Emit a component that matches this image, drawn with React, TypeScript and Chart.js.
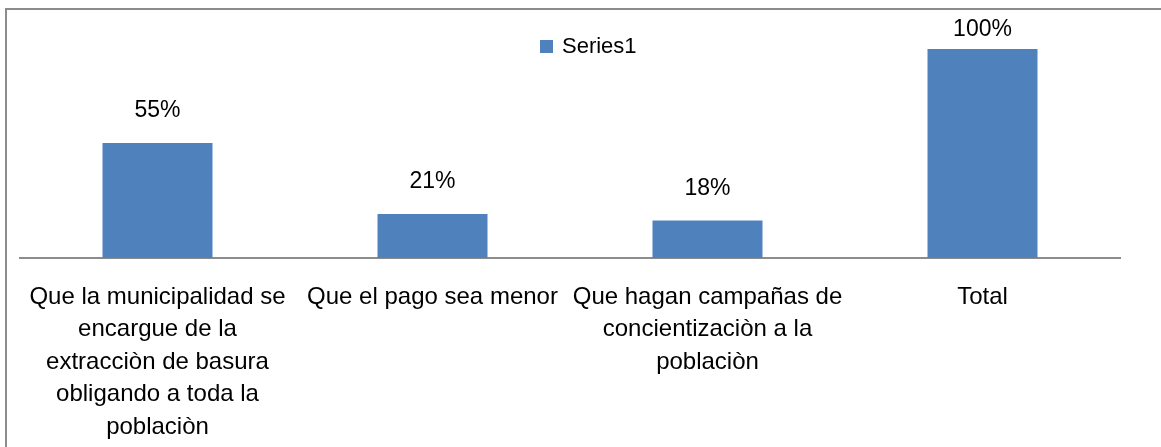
import React, { useEffect, useRef } from "react";
import { Chart, registerables } from "chart.js";

Chart.register(...registerables);

const categories: string[][] = [
  ["Que la municipalidad se", "encargue de la", "extracciòn de basura", "obligando a toda la", "poblaciòn"],
  ["Que el pago sea menor"],
  ["Que hagan campañas de", "concientizaciòn a la", "poblaciòn"],
  ["Total"],
];
const seriesName = "Series1";
const seriesValues = [55, 21, 18, 100];
const barColor = "#4F81BD";
const FONT = "'Liberation Sans', Arial, sans-serif";

const legendPlugin = {
  id: "customLegend",
  afterDraw(chart: any) {
    const ctx = chart.ctx;
    ctx.save();
    ctx.fillStyle = barColor;
    ctx.fillRect(540, 40, 13, 13);
    ctx.fillStyle = "#000";
    ctx.font = `22px ${FONT}`;
    ctx.textBaseline = "middle";
    ctx.textAlign = "left";
    ctx.fillText(seriesName, 562, 47);
    ctx.restore();
  },
};

const dataLabelPlugin = {
  id: "dataLabels",
  afterDatasetsDraw(chart: any) {
    const ctx = chart.ctx;
    const meta = chart.getDatasetMeta(0);
    ctx.save();
    ctx.fillStyle = "#000";
    ctx.font = `23px ${FONT}`;
    ctx.textAlign = "center";
    ctx.textBaseline = "middle";
    meta.data.forEach((bar: any, i: number) => {
      const y = Math.max(bar.y - 32, chart.chartArea.top - 19);
      ctx.fillText(`${seriesValues[i]}%`, bar.x, y);
    });
    ctx.restore();
  },
};

export default function App() {
  const ref = useRef<HTMLCanvasElement>(null);
  useEffect(() => {
    if (!ref.current) return;
    const chart = new Chart(ref.current, {
      type: "bar",
      data: {
        labels: categories,
        datasets: [
          {
            label: seriesName,
            data: seriesValues,
            backgroundColor: barColor,
            borderWidth: 0,
            categoryPercentage: 1,
            barPercentage: 0.4,
          },
        ],
      },
      options: {
        animation: false,
        responsive: false,
        maintainAspectRatio: false,
        layout: { padding: { left: 20, right: 41, top: 49, bottom: 0 } },
        plugins: { legend: { display: false }, tooltip: { enabled: false } },
        scales: {
          x: {
            grid: { display: false, drawTicks: false },
            border: { display: true, color: "#8c8c8c", width: 2 },
            ticks: {
              color: "#000",
              font: { family: FONT, size: 24, lineHeight: 32.5 / 24 },
              padding: 23,
              maxRotation: 0,
              autoSkip: false,
            },
            afterFit(scale: any) {
              scale.height = 189;
            },
          },
          y: { display: false, min: 0, max: 100 },
        },
      },
      plugins: [legendPlugin, dataLabelPlugin],
    });
    return () => chart.destroy();
  }, []);

  return (
    <div style={{ position: "fixed", left: 0, top: 0, width: 1161, height: 447, overflow: "hidden", background: "#fff" }}>
      <div
        style={{
          position: "absolute",
          left: 5,
          top: 8,
          width: 1200,
          height: 500,
          border: "2px solid #8c8c8c",
          boxSizing: "border-box",
        }}
      />
      <canvas ref={ref} width={1161} height={447} style={{ position: "absolute", left: 0, top: 0 }} />
    </div>
  );
}
